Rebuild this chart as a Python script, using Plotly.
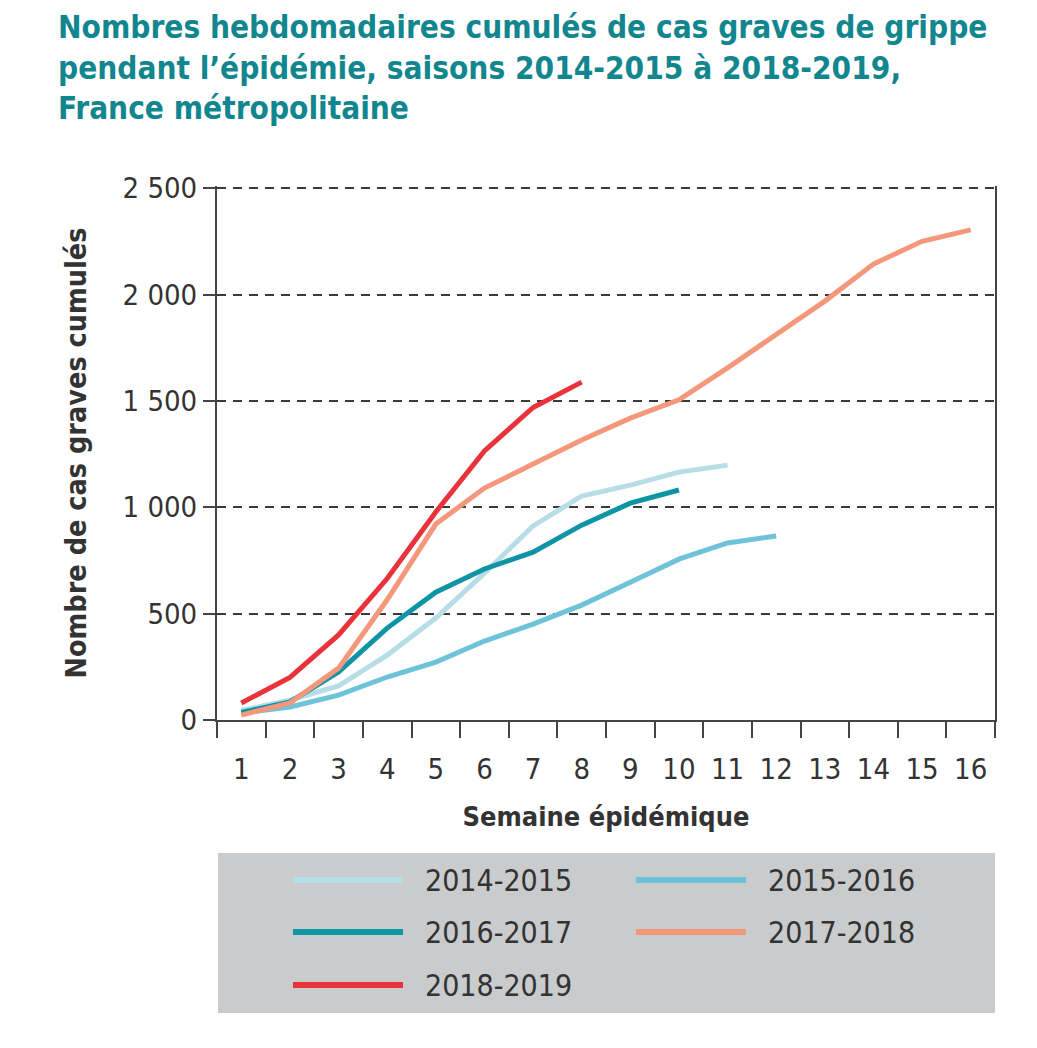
import plotly.graph_objects as go

weeks = list(range(1, 17))
seasons = ["2014-2015", "2015-2016", "2016-2017", "2017-2018", "2018-2019"]
v_2014_2015 = [45, 94, 160, 305, 479, 690, 912, 1053, 1104, 1165, 1198]
v_2015_2016 = [33, 61, 117, 202, 272, 371, 451, 540, 648, 756, 832, 865]
v_2016_2017 = [35, 85, 226, 432, 601, 710, 789, 916, 1019, 1081]
v_2017_2018 = [23, 80, 244, 565, 921, 1090, 1203, 1316, 1419, 1505, 1655, 1810, 1969, 2143, 2250, 2304]
v_2018_2019 = [80, 200, 400, 665, 978, 1265, 1469, 1588]
series_values = [v_2014_2015, v_2015_2016, v_2016_2017, v_2017_2018, v_2018_2019]
colors = ["#b7dee7", "#6fc3d9", "#0f94a6", "#f4977b", "#e8333b"]
ytick_vals = [0, 500, 1000, 1500, 2000, 2500]
ytick_text = ["0", "500", "1 000", "1 500", "2 000", "2 500"]

COND = "Liberation Sans Narrow, DejaVu Sans Condensed, Roboto, sans-serif"
TXT = "#333333"

# page has an 8px body margin: plot area target (217..995, ~186..720) in window coords
OFF = 8
YMAX = 2510
L, R, B = 217 - OFF, 995 - OFF, 720 - OFF
T = round(B - 532 * YMAX / 2500)
W, H = 1037, 1048
PW, PH = R - L, B - T

fig = go.Figure()
for name, vals, col in zip(seasons, series_values, colors):
    fig.add_trace(go.Scatter(x=weeks[:len(vals)], y=vals, mode="lines", name=name,
                             line=dict(color=col, width=5), showlegend=False))

fig.update_layout(
    width=W, height=H,
    margin=dict(l=L, r=W - R, t=T, b=H - B),
    paper_bgcolor="white", plot_bgcolor="white",
    font=dict(family=COND, color=TXT),
    xaxis=dict(range=[0.5, 16.5], tickvals=weeks, ticktext=[str(w) for w in weeks],
               ticks="", showgrid=False, zeroline=False,
               showline=True, linecolor="#444", linewidth=2,
               tickfont=dict(size=29, family=COND, color=TXT),
               ticklabelstandoff=22,
               minor=dict(tick0=0.5, dtick=1, ticks="outside", ticklen=16,
                          tickcolor="#444", tickwidth=1.5, showgrid=False),
               title=dict(text="<b>Semaine épidémique</b>", font=dict(size=27, family=COND, color=TXT),
                          standoff=22),
               fixedrange=True),
    yaxis=dict(range=[0, YMAX], tickvals=ytick_vals, ticktext=ytick_text,
               ticks="outside", ticklen=12, tickcolor="#444", tickwidth=1.5,
               showgrid=True, gridcolor="#3a3a3a", gridwidth=1.5, griddash="9px,7px",
               zeroline=False, showline=True, mirror=True, linecolor="#444", linewidth=2,
               tickfont=dict(size=29, family=COND, color=TXT),
               title=dict(text="<b>Nombre de cas graves cumulés</b>", font=dict(size=28.5, family=COND, color=TXT),
                          standoff=28),
               fixedrange=True),
)

def px_to_paper_x(px):
    return (px - OFF - L) / PW

def px_to_paper_y(py):
    return (B - (py - OFF)) / PH

# Title
fig.add_annotation(
    text="<b>Nombres hebdomadaires cumulés de cas graves de grippe<br>pendant l’épidémie, saisons 2014-2015 à 2018-2019,<br>France métropolitaine</b>",
    xref="paper", yref="paper", x=px_to_paper_x(56), y=px_to_paper_y(7),
    xanchor="left", yanchor="top", align="left", showarrow=False,
    font=dict(size=31.3, family=COND, color="#12868f"))

# Legend box
fig.add_shape(type="rect", xref="paper", yref="paper",
              x0=px_to_paper_x(218), x1=px_to_paper_x(995),
              y0=px_to_paper_y(1013), y1=px_to_paper_y(853),
              fillcolor="#c9cbcc", line=dict(width=0), layer="below")
positions = [(293, 880), (636, 880), (293, 932), (636, 932), (293, 985)]
for name, col, (lx, ly) in zip(seasons, colors, positions):
    fig.add_shape(type="line", xref="paper", yref="paper",
                  x0=px_to_paper_x(lx), x1=px_to_paper_x(lx + 110),
                  y0=px_to_paper_y(ly), y1=px_to_paper_y(ly),
                  line=dict(color=col, width=6))
    fig.add_annotation(text=name, xref="paper", yref="paper",
                       x=px_to_paper_x(lx + 130), y=px_to_paper_y(ly),
                       xanchor="left", yanchor="middle", showarrow=False,
                       font=dict(size=30, family=COND, color=TXT))

fig.write_html("out.html")
